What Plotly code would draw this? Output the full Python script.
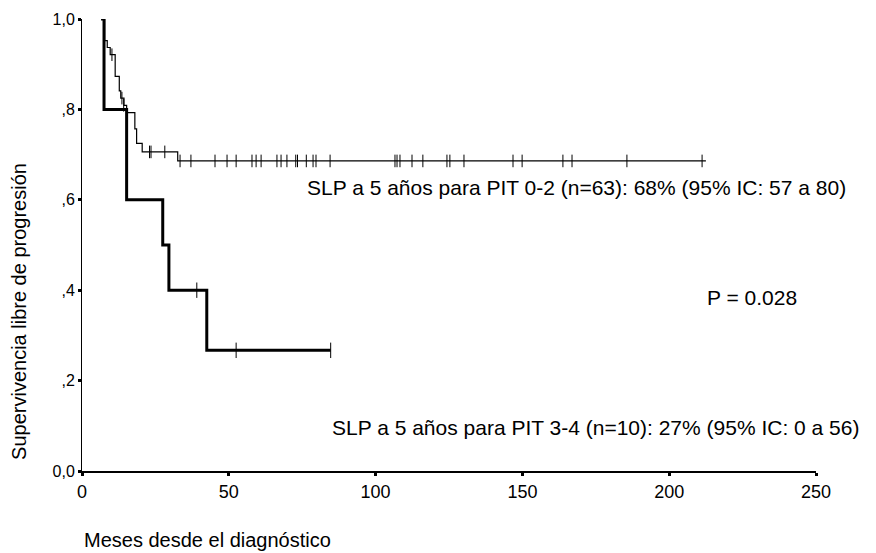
import plotly.graph_objects as go

# ---- data ----
# PIT 0-2 (n=63) step curve
t_02 = [6.5, 7.7, 8.6, 9.6, 11.3, 12.7, 13.2, 14.3, 15.2, 18.0, 18.6, 20.5, 32.6, 212.5]
s_02 = [1.0, 0.952, 0.937, 0.921, 0.873, 0.841, 0.825, 0.809, 0.793, 0.757, 0.725, 0.706, 0.686, 0.686]
# censored observations PIT 0-2
c_02_t = [10.2, 13.6, 14.2, 23.0, 23.5, 28.2,
          33.4, 37.1, 45.3, 49.4, 52.5, 57.9, 59.3, 61.0, 66.4, 67.8, 69.8, 72.8, 73.4,
          76.4, 78.7, 79.7, 84.5, 106.6, 107.3, 108.3, 112.4, 116.1, 124.3, 125.3,
          130.1, 146.8, 149.9, 163.8, 166.9, 185.6, 211.2]
c_02_s = [0.921, 0.825, 0.809, 0.706, 0.706, 0.706] + [0.686] * 31

# PIT 3-4 (n=10) step curve
t_34 = [6.5, 7.5, 15.2, 27.5, 29.6, 42.5, 84.7]
s_34 = [1.0, 0.8, 0.6, 0.5, 0.4, 0.267, 0.267]
c_34_t = [39.1, 52.5, 84.7]
c_34_s = [0.4, 0.267, 0.267]

x_ticks = [0, 50, 100, 150, 200, 250]
y_ticks = [0.0, 0.2, 0.4, 0.6, 0.8, 1.0]
y_labels = ["0,0", ",2", ",4", ",6", ",8", "1,0"]

FONT = "Liberation Sans, Arial, sans-serif"
NARROW = "Liberation Sans Narrow, Arial Narrow, Liberation Sans, sans-serif"

fig = go.Figure()
fig.add_trace(go.Scatter(x=t_02, y=s_02, mode="lines", line=dict(shape="hv", color="black", width=1.2),
                         cliponaxis=False, showlegend=False, hoverinfo="skip"))
fig.add_trace(go.Scatter(x=c_02_t, y=c_02_s, mode="markers",
                         marker=dict(symbol="line-ns-open", size=9, color="black",
                                     line=dict(color="black", width=1)),
                         cliponaxis=False, showlegend=False, hoverinfo="skip"))
fig.add_trace(go.Scatter(x=t_34, y=s_34, mode="lines", line=dict(shape="hv", color="black", width=3),
                         cliponaxis=False, showlegend=False, hoverinfo="skip"))
fig.add_trace(go.Scatter(x=c_34_t, y=c_34_s, mode="markers",
                         marker=dict(symbol="line-ns-open", size=11, color="black",
                                     line=dict(color="black", width=1)),
                         cliponaxis=False, showlegend=False, hoverinfo="skip"))

fig.update_layout(
    width=876, height=553,
    margin=dict(l=82, r=60, t=19, b=82),
    paper_bgcolor="white", plot_bgcolor="white",
    font=dict(family=FONT, color="black"),
    xaxis=dict(range=[0, 250], tickvals=x_ticks, ticktext=[str(v) for v in x_ticks],
               showgrid=False, zeroline=False, showline=True, linecolor="black", linewidth=2,
               ticks="outside", ticklen=3, tickwidth=3, tickcolor="black",
               tickfont=dict(family=NARROW, size=18)),
    yaxis=dict(range=[0, 1], tickvals=y_ticks, ticktext=y_labels,
               showgrid=False, zeroline=False, showline=True, linecolor="black", linewidth=1,
               ticks="outside", ticklen=3, tickwidth=3, tickcolor="black",
               tickfont=dict(family=FONT, size=16)),
    annotations=[
        dict(x=75.9, y=0.628, xref="x", yref="y", xanchor="left", yanchor="middle", showarrow=False,
             text="SLP a 5 años para PIT 0-2 (n=63): 68% (95% IC: 57 a 80)", font=dict(size=21)),
        dict(x=212.2, y=0.383, xref="x", yref="y", xanchor="left", yanchor="middle", showarrow=False,
             text="P = 0.028", font=dict(size=21)),
        dict(x=84.5, y=0.097, xref="x", yref="y", xanchor="left", yanchor="middle", showarrow=False,
             text="SLP a 5 años para PIT 3-4 (n=10): 27% (95% IC: 0 a 56)", font=dict(size=21)),
        dict(x=-0.0858, y=0.352, xref="paper", yref="paper", xanchor="center", yanchor="middle",
             showarrow=False, textangle=-90, text="Supervivencia libre de progresión", font=dict(size=20)),
        dict(x=0, y=-0.153, xref="paper", yref="paper", xanchor="left", yanchor="middle",
             showarrow=False, text="Meses desde el diagnóstico", font=dict(size=20)),
    ],
)

fig.write_html("out.html")
